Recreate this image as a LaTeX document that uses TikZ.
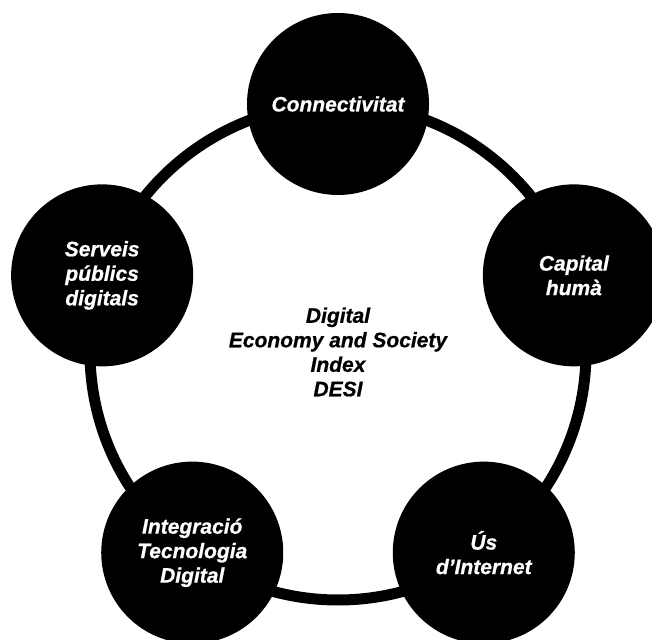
\documentclass[tikz,border=0pt]{standalone}
\usepackage{fontspec}
\setmainfont{Liberation Sans}
\newfontfamily\heavyfont{Liberation Sans Bold Italic}[FakeBold=0.7]
\usetikzlibrary{calc}
\tikzset{
  pillar/.style={shape=circle, fill=black, text=white, minimum size=182pt, inner sep=0pt, align=center, font=\fontsize{21}{24.5}\selectfont\heavyfont},
}
\begin{document}
\begin{tikzpicture}[x=1pt, y=1pt]
\useasboundingbox (0,0) rectangle (652,639);
\coordinate (centre) at (338,287);
\draw[line width=11pt] (centre) circle (248pt);
\node[align=center, font=\fontsize{21}{24.5}\selectfont\heavyfont](desi) at (centre) {Digital\\Economy and Society\\Index\\DESI};
\foreach \ang/\name/\txt in {90/conn/{Connectivitat}, 18/capital/{Capital\\humà}, 306/us/{Ús\\d’Internet}, 234/integ/{Integració\\Tecnologia\\Digital}, 162/serveis/{Serveis\\públics\\digitals}}
  \node[pillar](\name) at ($(centre)+(\ang:248)$) {\txt};
\end{tikzpicture}
\end{document}
